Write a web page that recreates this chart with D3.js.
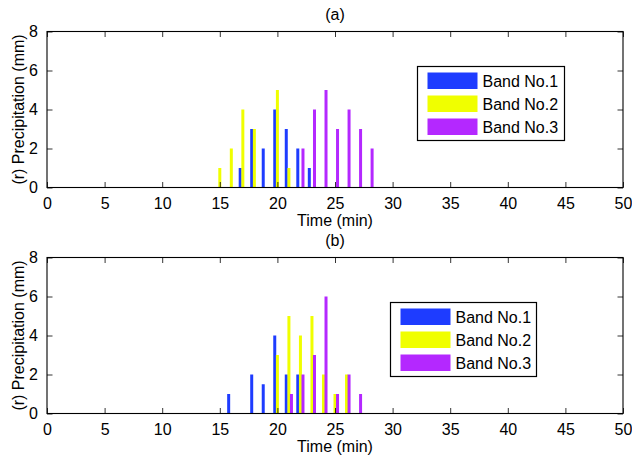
<!DOCTYPE html>
<html><head><meta charset="utf-8">
<script src="https://cdn.jsdelivr.net/npm/d3@7"></script>
<style>
body{margin:0;background:#fff}
text{font-family:"Liberation Sans",Arial,Helvetica,sans-serif;font-size:16px;fill:#000}
</style>
</head><body>
<svg id="c" width="632" height="461"></svg>
<script>
// ---- data ----
const times = [15,16,17,18,19,20,21,22,23,24,25,26,27,28];
const bandNames = ["Band No.1","Band No.2","Band No.3"];
const bandColors = ["#1e3cff","#f0ff00","#b428ff"];
const panelTitles = ["(a)","(b)"];
const xTickValues = [0,5,10,15,20,25,30,35,40,45,50];
const yTickValues = [0,2,4,6,8];
// panel (a)
const aBand1 = [0,0,1,3,2,4,3,2,1,0,0,0,0,0];
const aBand2 = [1,2,4,3,0,5,1,0,0,0,0,0,0,0];
const aBand3 = [0,0,0,0,0,0,0,2,4,5,3,4,3,2];
// panel (b)
const bBand1 = [0,1,0,2,1.5,4,2,2,0,0,0,0,0,0];
const bBand2 = [0,0,0,0,0,3,5,4,5,2,1,2,0,0];
const bBand3 = [0,0,0,0,0,0,1,2,3,6,1,2,1,0];

const panels = [
  {title: panelTitles[0], series:[aBand1,aBand2,aBand3], top:31.5, legend:{x:417.5,y:66.5,w:147,h:74}},
  {title: panelTitles[1], series:[bBand1,bBand2,bBand3], top:257.5, legend:{x:390.5,y:302.5,w:146,h:74}}
];

const svg = d3.select("#c");
const left = 47, right = 623, ph = 156;
const offsets = [-0.23, 0, 0.22];
const barW = 0.26;

panels.forEach(p => {
  const g = svg.append("g");
  const x = d3.scaleLinear().domain([0,50]).range([left,right]);
  const y = d3.scaleLinear().domain([0,8]).range([p.top+ph, p.top]);

  // bars
  p.series.forEach((vals, si) => {
    const data = times.map((t,i)=>({t, v: vals[i]})).filter(d=>d.v>0);
    g.append("g").selectAll("rect").data(data).join("rect")
      .attr("x", d => x(d.t+offsets[si]-barW/2))
      .attr("width", d => x(d.t+offsets[si]+barW/2)-x(d.t+offsets[si]-barW/2))
      .attr("y", d => y(d.v))
      .attr("height", d => y(0)-y(d.v))
      .attr("fill", bandColors[si]);
  });

  // axes with inward ticks
  const tl = 5.5;
  const xb = d3.axisBottom(x).tickValues(xTickValues).tickSize(-tl).tickPadding(tl+5);
  const xt = d3.axisTop(x).tickValues(xTickValues).tickSize(-tl).tickFormat("");
  const yl = d3.axisLeft(y).tickValues(yTickValues).tickSize(-tl).tickPadding(tl+3.5);
  const yr = d3.axisRight(y).tickValues(yTickValues).tickSize(-tl).tickFormat("");
  const ax = [
    g.append("g").attr("transform",`translate(0,${p.top+ph})`).call(xb),
    g.append("g").attr("transform",`translate(0,${p.top})`).call(xt),
    g.append("g").attr("transform",`translate(${left},0)`).call(yl),
    g.append("g").attr("transform",`translate(${right},0)`).call(yr)
  ];
  ax.forEach(a => {
    a.attr("font-size",null).attr("font-family",null);
    a.select(".domain").remove();
    a.selectAll("line").attr("stroke","#000").attr("stroke-width",0.8);
    a.selectAll("text").attr("fill","#000");
  });
  // box
  g.append("rect").attr("x",left).attr("y",p.top).attr("width",right-left).attr("height",ph)
    .attr("fill","none").attr("stroke","#000").attr("stroke-width",1.1);

  // titles and labels
  g.append("text").attr("x",(left+right)/2).attr("y",p.top-12).attr("text-anchor","middle").text(p.title);
  g.append("text").attr("x",(left+right)/2).attr("y",p.top+ph+38).attr("text-anchor","middle").text("Time (min)");
  g.append("text").attr("transform",`translate(24,${p.top+ph/2}) rotate(-90)`).attr("text-anchor","middle").text("(r) Precipitation (mm)");

  // legend
  const L = p.legend;
  const lg = g.append("g").attr("transform",`translate(${L.x},${L.y})`);
  lg.append("rect").attr("width",L.w).attr("height",L.h).attr("fill","#fff").attr("stroke","#000").attr("stroke-width",1.2);
  bandNames.forEach((n,i) => {
    lg.append("rect").attr("x",10).attr("y",6+i*23).attr("width",50).attr("height",16.5).attr("fill",bandColors[i]);
    lg.append("text").attr("x",65).attr("y",6+i*23+14).text(n);
  });
});
</script>
</body></html>
